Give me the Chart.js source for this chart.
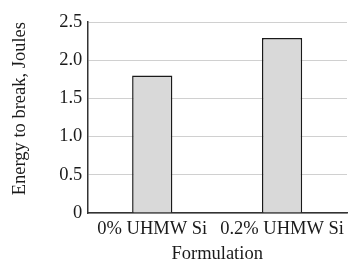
<!DOCTYPE html>
<html><head><meta charset="utf-8">
<script src="https://cdn.jsdelivr.net/npm/chart.js@4/dist/chart.umd.min.js"></script>
<style>html,body{margin:0;padding:0;background:#fff}#wrap{width:358px;height:263px}</style>
</head><body><div id="wrap"><canvas id="c"></canvas></div>
<script>
const categories = ["0% UHMW Si", "0.2% UHMW Si"];
const energyValues = [1.80, 2.29];
const yTicks = [0, 0.5, 1.0, 1.5, 2.0, 2.5];

const serif = "'Liberation Serif', 'Times New Roman', serif";
new Chart(document.getElementById('c'), {
  type: 'bar',
  data: {
    labels: categories,
    datasets: [{
      data: energyValues,
      backgroundColor: '#d9d9d9',
      borderColor: '#1a1a1a',
      borderWidth: 1.5,
      categoryPercentage: 0.31,
      barPercentage: 1.0
    }]
  },
  options: {
    responsive: true,
    maintainAspectRatio: false,
    animation: false,
    layout: { padding: { top: 22, right: 11, left: 9, bottom: 0 } },
    plugins: { legend: { display: false }, tooltip: { enabled: false } },
    scales: {
      x: {
        afterFit: (axis) => { axis.height = 50; },
        grid: { display: false, drawTicks: false },
        border: { display: true, color: '#333', width: 1.5 },
        ticks: { color: '#1a1a1a', font: { family: serif, size: 18.5, lineHeight: 1.0 }, padding: 7, maxRotation: 0, autoSkip: false },
        title: { display: true, text: 'Formulation', color: '#1a1a1a', font: { family: serif, size: 18.5, lineHeight: 1.0 }, padding: { top: 0, bottom: 0 } }
      },
      y: {
        min: 0, max: 2.5,
        afterBuildTicks: (axis) => { axis.ticks = yTicks.map(v => ({ value: v })); },
        grid: { color: '#d0d0d0', lineWidth: 1, drawTicks: false },
        border: { display: true, color: '#333', width: 1.5 },
        ticks: {
          color: '#1a1a1a', font: { family: serif, size: 18.5 }, padding: 5,
          callback: (v) => v === 0 ? '0' : Number(v).toFixed(1)
        },
        title: { display: true, align: 'end', text: 'Energy to break, Joules', color: '#1a1a1a', font: { family: serif, size: 18.5, lineHeight: 1.2 }, padding: { top: 0, bottom: 23 } }
      }
    }
  }
});
</script></body></html>
